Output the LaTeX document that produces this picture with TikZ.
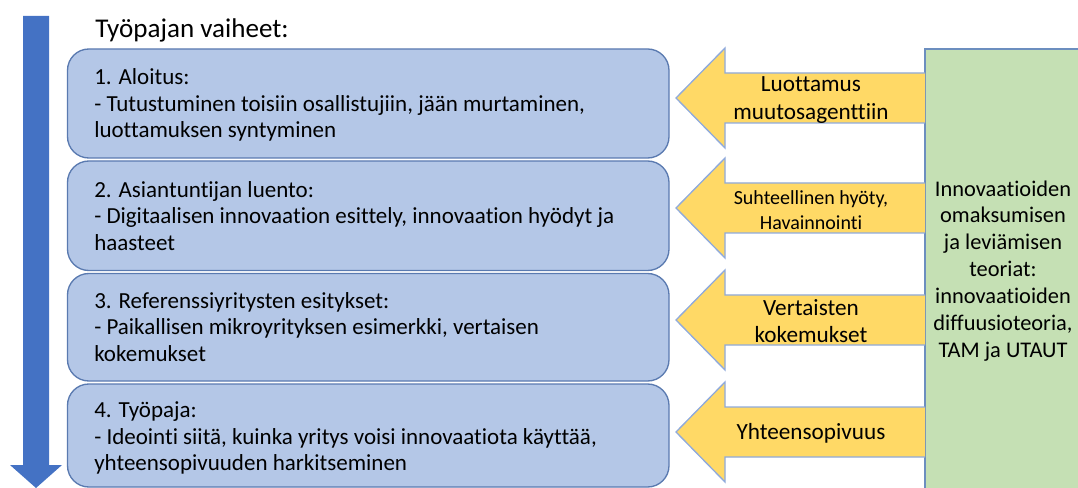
\documentclass[tikz,border=0pt]{standalone}
\usepackage{fontspec}
\setmainfont[Ligatures=NoCommon]{Carlito}
\definecolor{stepfill}{HTML}{B4C7E7}
\definecolor{stepline}{HTML}{5A7AB0}
\definecolor{flowblue}{HTML}{4472C4}
\definecolor{arrowfill}{HTML}{FFD966}
\definecolor{arrowline}{HTML}{8FAADC}
\definecolor{theoryfill}{HTML}{C5E0B4}
\definecolor{theoryline}{HTML}{6C8EBF}
\tikzset{
  stepbox/.style={draw=stepline, line width=1pt, fill=stepfill, rounded corners=16pt},
  steptext/.style={anchor=west, align=left, font=\fontsize{17.25}{19.8}\selectfont, inner sep=0pt},
  influence/.style={draw=arrowline, line width=1pt, fill=arrowfill},
  influencetext/.style={align=center, inner sep=0pt},
}
\begin{document}
\begin{tikzpicture}[x=0.75pt, y=-0.75pt]
  \useasboundingbox (0,0) rectangle (1078,488);

  % time flow arrow down the left side
  \fill[flowblue] (23,16) -- (49,16) -- (49,465) -- (62,465) -- (36,488) -- (10,465) -- (23,465) -- cycle;

  % heading
  \node[anchor=west, inner sep=0pt, font=\fontsize{20.3}{24}\selectfont] (title) at (95,30) {Työpajan vaiheet:};

  % theory box on the right
  \fill[theoryfill] (925,49) rectangle (1080,495);
  \draw[theoryline, line width=1pt] (925,495) -- (925,49) -- (1080,49);
  \node[influencetext, font=\fontsize{16.8}{20.2}\selectfont] (theory) at (1003,271)
    {Innovaatioiden\\omaksumisen\\ja leviämisen\\teoriat:\\innovaatioiden\\diffuusioteoria,\\TAM ja UTAUT};

  % workshop phases
  \draw[stepbox] (67.5,49) rectangle (669,158);
  \draw[stepbox] (67.5,161) rectangle (669,270.5);
  \draw[stepbox] (67.5,273.5) rectangle (669,381);
  \draw[stepbox] (67.5,384) rectangle (669,487);
  \node[steptext] (s1) at (94,105) {1. Aloitus:\\- Tutustuminen toisiin osallistujiin, jään murtaminen,\\luottamuksen syntyminen};
  \node[steptext] (s2) at (94,216) {2. Asiantuntijan luento:\\- Digitaalisen innovaation esittely, innovaation hyödyt ja\\haasteet};
  \node[steptext] (s3) at (94,327) {3. Referenssiyritysten esitykset:\\- Paikallisen mikroyrityksen esimerkki, vertaisen\\kokemukset};
  \node[steptext] (s4) at (94,438) {4. Työpaja:\\- Ideointi siitä, kuinka yritys voisi innovaatiota käyttää,\\yhteensopivuuden harkitseminen};

  % influence arrows from the theory box to each phase
  \foreach \cy in {98,208,320,432}{
    \draw[influence] (925,\cy-25) -- (725,\cy-25) -- (725,\cy-50) -- (676,\cy)
      -- (725,\cy+50) -- (725,\cy+25) -- (925,\cy+25);
  }
  \node[influencetext, font=\fontsize{17.4}{20.4}\selectfont] (a1) at (811,100) {Luottamus\\muutosagenttiin};
  \node[influencetext, font=\fontsize{15}{19}\selectfont] (a2) at (811,210) {Suhteellinen hyöty,\\Havainnointi};
  \node[influencetext, font=\fontsize{17.4}{20.4}\selectfont] (a3) at (811,321) {Vertaisten\\kokemukset};
  \node[influencetext, font=\fontsize{17.4}{20.4}\selectfont] (a4) at (811,433) {Yhteensopivuus};
\end{tikzpicture}
\end{document}
